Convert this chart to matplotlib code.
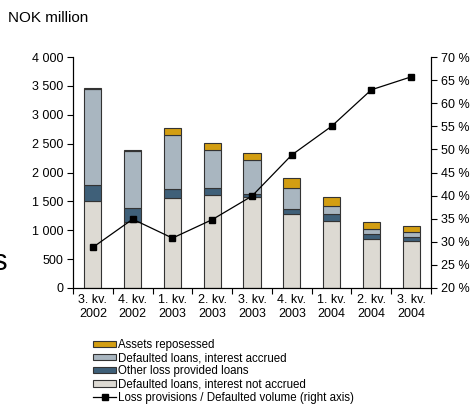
import numpy as np
import matplotlib
matplotlib.use('Agg')
import matplotlib.pyplot as plt
from matplotlib.ticker import FuncFormatter, FixedLocator
from matplotlib.lines import Line2D
from matplotlib.patches import Patch

plt.rcParams['font.family'] = ['Liberation Sans', 'DejaVu Sans']

# Data (NOK million and % share)
quarters = ['3. kv.\n2002', '4. kv.\n2002', '1. kv.\n2003', '2. kv.\n2003', '3. kv.\n2003',
            '4. kv.\n2003', '1. kv.\n2004', '2. kv.\n2004', '3. kv.\n2004']
not_accrued = [1510, 1140, 1550, 1610, 1570, 1275, 1165, 850, 820]
other_loss = [270, 240, 160, 115, 55, 90, 120, 80, 65]
accrued = [1670, 990, 940, 665, 590, 365, 135, 90, 80]
reposessed = [12, 15, 125, 115, 116, 175, 150, 130, 100]
provision_pct = [28.8, 34.9, 30.8, 34.8, 39.9, 48.8, 55.0, 62.9, 65.7]

c_repo = '#D39E12'
c_acc = '#A9B6C0'
c_other = '#3F6079'
c_base = '#DDDAD3'
edge = '#333333'

fig = plt.figure(figsize=(4.72, 4.05), dpi=100)
ax = fig.add_axes([73/472, 1-288/405, (431-73)/472, (288-57)/405])

x = np.arange(len(quarters))
w = 0.43
b1 = np.array(not_accrued)
b2 = b1 + np.array(other_loss)
b3 = b2 + np.array(accrued)
ax.bar(x, not_accrued, w, color=c_base, edgecolor=edge, linewidth=0.8)
ax.bar(x, other_loss, w, bottom=b1, color=c_other, edgecolor=edge, linewidth=0.8)
ax.bar(x, accrued, w, bottom=b2, color=c_acc, edgecolor=edge, linewidth=0.8)
ax.bar(x, reposessed, w, bottom=b3, color=c_repo, edgecolor=edge, linewidth=0.8)

ax.set_xlim(-0.5, 8.5)
ax.set_ylim(0, 4000)
ax.set_yticks(np.arange(0, 4001, 500))
ax.yaxis.set_major_formatter(FuncFormatter(lambda v, p: f'{int(v):,}'.replace(',', ' ')))
ax.set_xticks(x)
ax.set_xticklabels(quarters, fontsize=9, linespacing=1.3)
ax.xaxis.set_minor_locator(FixedLocator(np.arange(-0.5, 9, 1)))
ax.tick_params(axis='x', which='major', length=0, pad=4)
ax.tick_params(axis='x', which='minor', length=4, width=0.8, direction='out')
ax.tick_params(axis='y', length=4, width=0.8, labelsize=9, pad=3)
ax.spines['top'].set_visible(False)
for s in ['left', 'bottom', 'right']:
    ax.spines[s].set_linewidth(0.8)

ax2 = ax.twinx()
ax2.plot(x, provision_pct, color='black', linewidth=0.9, marker='s', markersize=5)
ax2.set_ylim(20, 70)
ax2.set_yticks(np.arange(20, 71, 5))
ax2.yaxis.set_major_formatter(FuncFormatter(lambda v, p: f'{int(v)} %'))
ax2.tick_params(axis='y', length=4, width=0.8, labelsize=9, pad=3)
ax2.spines['top'].set_visible(False)
ax2.spines['right'].set_linewidth(0.8)

fig.text(8/472, 1-18/405, 'NOK million', fontsize=11, va='center', ha='left')
fig.text(7/472, 1-262/405, 's', fontsize=21, va='center', ha='right')

handles = [Patch(facecolor=c_repo, edgecolor=edge, linewidth=0.8),
           Patch(facecolor=c_acc, edgecolor=edge, linewidth=0.8),
           Patch(facecolor=c_other, edgecolor=edge, linewidth=0.8),
           Patch(facecolor=c_base, edgecolor=edge, linewidth=0.8),
           Line2D([], [], color='black', linewidth=0.9, marker='s', markersize=4)]
labels = ['Assets reposessed', 'Defaulted loans, interest accrued', 'Other loss provided loans',
          'Defaulted loans, interest not accrued', 'Loss provisions / Defaulted volume (right axis)']
fig.legend(handles, labels, loc='upper left', bbox_to_anchor=(93/472, 1-339/405),
           frameon=False, fontsize=8.3, handlelength=2.0, handleheight=0.5,
           handletextpad=0.15, labelspacing=0.1, borderpad=0, borderaxespad=0)

fig.savefig('out.png', dpi=100)
